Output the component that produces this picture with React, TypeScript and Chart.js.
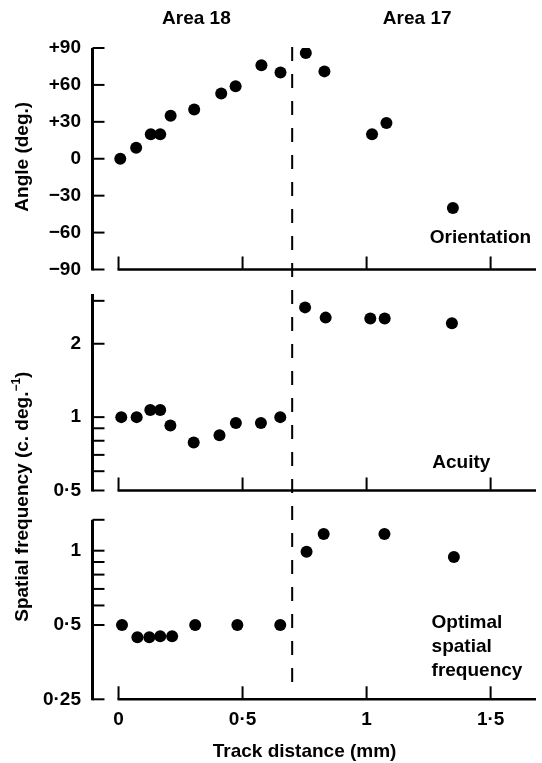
import React, { useEffect, useRef } from 'react';
import { Chart, registerables } from 'chart.js';

Chart.register(...registerables);

// ---------- data ----------
const orientationX = [0.007, 0.071, 0.13, 0.168, 0.21, 0.305, 0.414, 0.472, 0.576, 0.653, 0.755, 0.83, 1.022, 1.08, 1.348];
const orientationDeg = [0, 9, 20, 20, 35, 40, 53, 59, 76, 70, 86, 71, 20, 29, -40];

const acuityX = [0.011, 0.073, 0.128, 0.168, 0.209, 0.303, 0.407, 0.473, 0.574, 0.652, 0.752, 0.835, 1.015, 1.073, 1.344];
const acuityCpd = [1.0, 1.0, 1.07, 1.07, 0.924, 0.786, 0.842, 0.947, 0.947, 1.0, 2.82, 2.56, 2.54, 2.54, 2.43];

const optimalX = [0.014, 0.076, 0.124, 0.168, 0.216, 0.309, 0.479, 0.652, 0.758, 0.827, 1.072, 1.352];
const optimalCpd = [0.5, 0.446, 0.446, 0.45, 0.45, 0.5, 0.5, 0.5, 0.99, 1.168, 1.168, 0.943];

const xTicks = [0, 0.5, 1, 1.5];
const angleTicks = [-90, -60, -30, 0, 30, 60, 90];
const acuityTicks = [0.5, 0.6, 0.7, 0.8, 0.9, 1, 2, 3];
const acuityLabelled = [0.5, 1, 2];
const optimalTicks = [0.25, 0.5, 0.6, 0.7, 0.8, 0.9, 1, 1.334];
const optimalLabelled = [0.25, 0.5, 1];

const X_MIN = -0.107;
const X_MAX = 1.683;
const BORDER_X = 0.7; // area 18 / area 17 boundary

// ---------- layout (pixels) ----------
const W = 542;
const H = 763;
const Y_AXIS_W = 92;
const PANELS = {
  top: { top: 48, bottom: 269.5 },
  mid: { top: 294, bottom: 490.5 },
  bot: { top: 519.8, bottom: 699.3 },
};
const DIVIDER_BOTTOM = 686;
const FONT = '"Liberation Sans", Arial, Helvetica, sans-serif';
const BOLD = `bold 19px ${FONT}`;

const fmt = (v: number) => String(v).replace('.', '\u00B7');

type TextItem = { text: string; x: number; y: number; align?: CanvasTextAlign };

function decor(opts: {
  yTicks: number[];
  divider?: boolean;
  texts?: TextItem[];
  extra?: (ctx: CanvasRenderingContext2D, chart: any) => void;
}) {
  return {
    id: 'decor',
    afterDraw(chart: any) {
      const { ctx, chartArea: a, scales } = chart;
      const xs = scales.x;
      const ys = scales.y;
      ctx.save();
      ctx.strokeStyle = '#000';
      ctx.fillStyle = '#000';
      ctx.lineCap = 'butt';
      // y spine
      const sx = a.left + 0.5;
      ctx.lineWidth = 3;
      ctx.beginPath();
      ctx.moveTo(sx, a.top);
      ctx.lineTo(sx, a.bottom + 1);
      ctx.stroke();
      // y ticks (inward)
      ctx.lineWidth = 2;
      for (const v of opts.yTicks) {
        const py = ys.getPixelForValue(v);
        ctx.beginPath();
        ctx.moveTo(sx, py);
        ctx.lineTo(sx + 12, py);
        ctx.stroke();
      }
      // x axis line
      const x0 = xs.getPixelForValue(xTicks[0]);
      ctx.lineWidth = 2.5;
      ctx.beginPath();
      ctx.moveTo(x0 - 1, a.bottom);
      ctx.lineTo(a.right, a.bottom);
      ctx.stroke();
      // x ticks (inward)
      ctx.lineWidth = 2;
      for (const v of xTicks) {
        const px = xs.getPixelForValue(v);
        ctx.beginPath();
        ctx.moveTo(px, a.bottom);
        ctx.lineTo(px, a.bottom - 13);
        ctx.stroke();
      }
      // dashed area boundary
      if (opts.divider) {
        const dx = xs.getPixelForValue(BORDER_X);
        ctx.lineWidth = 2;
        ctx.setLineDash([14, 13]);
        ctx.beginPath();
        ctx.moveTo(dx, a.top - 1);
        ctx.lineTo(dx, DIVIDER_BOTTOM);
        ctx.stroke();
        ctx.setLineDash([]);
      }
      // texts in data coordinates
      ctx.font = BOLD;
      ctx.textBaseline = 'alphabetic';
      for (const t of opts.texts || []) {
        ctx.textAlign = t.align || 'left';
        ctx.fillText(t.text, xs.getPixelForValue(t.x), ys.getPixelForValue(t.y));
      }
      if (opts.extra) opts.extra(ctx, chart);
      ctx.restore();
    },
  };
}

function makeConfig(p: {
  xs: number[];
  ys: number[];
  panel: { top: number; bottom: number };
  yScale: any;
  yTicks: number[];
  showX: boolean;
  plugin: any;
}) {
  const xAxisH = H - p.panel.bottom;
  return {
    type: 'scatter',
    data: {
      datasets: [
        {
          data: p.xs.map((v, i) => ({ x: v, y: p.ys[i] })),
          pointRadius: 6,
          pointHoverRadius: 6,
          pointBorderWidth: 0,
          pointBackgroundColor: '#000',
          backgroundColor: '#000',
          borderColor: '#000',
          showLine: false,
        },
      ],
    },
    options: {
      animation: false,
      responsive: false,
      devicePixelRatio: 1,
      events: [],
      layout: {
        padding: { top: p.panel.top, bottom: 0, left: 0, right: 0 },
      },
      plugins: { legend: { display: false }, tooltip: { enabled: false }, title: { display: false } },
      scales: {
        x: {
          type: 'linear',
          min: X_MIN,
          max: X_MAX,
          bounds: 'data',
          display: true,
          grid: { display: false, drawTicks: false },
          border: { display: false },
          ticks: {
            display: p.showX,
            autoSkip: false,
            maxRotation: 0,
            padding: 9,
            color: '#000',
            font: { family: FONT, size: 19, weight: 'bold' },
            callback: (v: number) => fmt(v),
          },
          afterBuildTicks: (s: any) => {
            s.ticks = xTicks.map((v) => ({ value: v }));
          },
          afterFit: (s: any) => {
            s.height = xAxisH;
          },
        },
        y: {
          ...p.yScale,
          bounds: 'data',
          grid: { display: false, drawTicks: false },
          border: { display: false },
          ticks: {
            autoSkip: false,
            padding: 11,
            color: '#000',
            font: { family: FONT, size: 19, weight: 'bold' },
            callback: p.yScale.label,
          },
          afterBuildTicks: (s: any) => {
            s.ticks = p.yTicks.map((v) => ({ value: v }));
          },
          afterFit: (s: any) => {
            s.width = Y_AXIS_W;
          },
        },
      },
    },
    plugins: [p.plugin],
  };
}

function drawRotated(ctx: CanvasRenderingContext2D, cx: number, cy: number, parts: { t: string; sup?: boolean }[]) {
  ctx.save();
  ctx.translate(cx, cy);
  ctx.rotate(-Math.PI / 2);
  ctx.textAlign = 'left';
  ctx.textBaseline = 'alphabetic';
  const supFont = `bold 12px ${FONT}`;
  let total = 0;
  const widths = parts.map((p) => {
    ctx.font = p.sup ? supFont : BOLD;
    const w = ctx.measureText(p.t).width;
    total += w;
    return w;
  });
  let x = -total / 2;
  parts.forEach((p, i) => {
    ctx.font = p.sup ? supFont : BOLD;
    ctx.fillText(p.t, x, p.sup ? -8 : 0);
    x += widths[i];
  });
  ctx.restore();
}

export default function App() {
  const r1 = useRef<HTMLCanvasElement>(null);
  const r2 = useRef<HTMLCanvasElement>(null);
  const r3 = useRef<HTMLCanvasElement>(null);

  useEffect(() => {
    const c1 = new Chart(
      r1.current as HTMLCanvasElement,
      makeConfig({
        xs: orientationX,
        ys: orientationDeg,
        panel: PANELS.top,
        yTicks: angleTicks,
        showX: false,
        yScale: {
          type: 'linear',
          min: -90,
          max: 90,
          label: (v: number) => (v > 0 ? '+' + v : v < 0 ? '\u2212' + -v : '0'),
        },
        plugin: decor({
          yTicks: angleTicks,
          divider: true,
          texts: [{ text: 'Orientation', x: 1.255, y: -68.7 }],
          extra: (ctx, chart) => {
            const a = chart.chartArea;
            const xs = chart.scales.x;
            ctx.font = BOLD;
            ctx.textAlign = 'center';
            ctx.textBaseline = 'alphabetic';
            ctx.fillText('Area 18', xs.getPixelForValue(0.314), a.top - 24.5);
            ctx.fillText('Area 17', xs.getPixelForValue(1.204), a.top - 24.5);
            drawRotated(ctx, 28, (a.top + a.bottom) / 2 - 2, [{ t: 'Angle (deg.)' }]);
          },
        }),
      }) as any
    );
    const c2 = new Chart(
      r2.current as HTMLCanvasElement,
      makeConfig({
        xs: acuityX,
        ys: acuityCpd,
        panel: PANELS.mid,
        yTicks: acuityTicks,
        showX: false,
        yScale: {
          type: 'logarithmic',
          min: 0.5,
          max: 3.2,
          label: (v: number) => (acuityLabelled.includes(v) ? fmt(v) : ''),
        },
        plugin: decor({
          yTicks: acuityTicks,
          texts: [{ text: 'Acuity', x: 1.265, y: 0.618 }],
        }),
      }) as any
    );
    const c3 = new Chart(
      r3.current as HTMLCanvasElement,
      makeConfig({
        xs: optimalX,
        ys: optimalCpd,
        panel: PANELS.bot,
        yTicks: optimalTicks,
        showX: true,
        yScale: {
          type: 'logarithmic',
          min: 0.25,
          max: 1.334,
          label: (v: number) => (optimalLabelled.includes(v) ? fmt(v) : ''),
        },
        plugin: decor({
          yTicks: optimalTicks,
          texts: [
            { text: 'Optimal', x: 1.262, y: 0.486 },
            { text: 'spatial', x: 1.262, y: 0.389 },
            { text: 'frequency', x: 1.262, y: 0.311 },
          ],
          extra: (ctx, chart) => {
            const a = chart.chartArea;
            const xs = chart.scales.x;
            ctx.font = BOLD;
            ctx.textAlign = 'center';
            ctx.textBaseline = 'alphabetic';
            ctx.fillText('Track distance (mm)', xs.getPixelForValue(0.75), a.bottom + 57.7);
            drawRotated(ctx, 28, (PANELS.mid.top + PANELS.bot.bottom) / 2, [
              { t: 'Spatial frequency (c. deg.' },
              { t: '\u22121', sup: true },
              { t: ')' },
            ]);
          },
        }),
      }) as any
    );
    return () => {
      c1.destroy();
      c2.destroy();
      c3.destroy();
    };
  }, []);

  const cs: React.CSSProperties = { position: 'absolute', left: 0, top: 0, width: W, height: H };
  return (
    <div style={{ position: 'absolute', left: 0, top: 0, width: W, height: H, background: '#fff' }}>
      <canvas ref={r1} width={W} height={H} style={cs} />
      <canvas ref={r2} width={W} height={H} style={cs} />
      <canvas ref={r3} width={W} height={H} style={cs} />
    </div>
  );
}
